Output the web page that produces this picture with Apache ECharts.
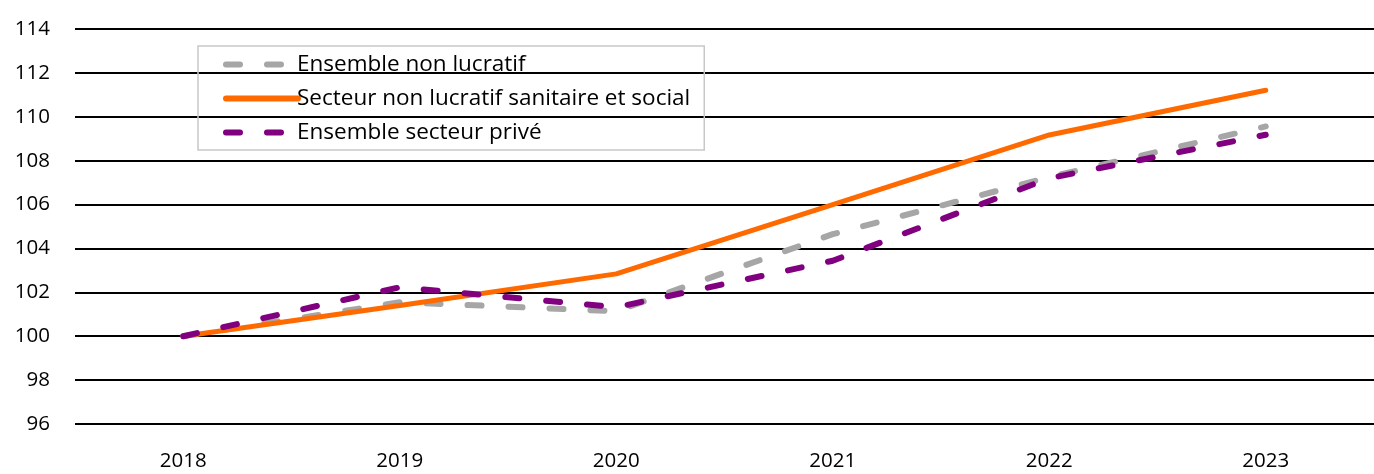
<!DOCTYPE html>
<html>
<head>
<meta charset="utf-8">
<script src="https://cdn.jsdelivr.net/npm/echarts@6/dist/echarts.min.js"></script>
<style>
  html, body { margin: 0; padding: 0; background: #fff; }
  #chart { width: 1374px; height: 474px; }
</style>
</head>
<body>
<div id="chart"></div>
<script>
// données (base 100 en 2018)
const years = ["2018", "2019", "2020", "2021", "2022", "2023"];
const ensembleNonLucratif = [100, 101.55, 101.14, 104.65, 107.25, 109.56];
const secteurSanitaireSocial = [100, 101.4, 102.84, 106.0, 109.17, 111.21];
const ensemblePrive = [100, 102.23, 101.32, 103.44, 107.2, 109.18];

const FONT = "'Open Sans', 'Noto Sans', sans-serif";

const chart = echarts.init(document.getElementById("chart"));

const dashed = (color) => ({
  color: color,
  width: 6,
  type: [14, 27],
  cap: "round",
});

chart.setOption({
  animation: false,
  backgroundColor: "#fff",
  grid: { left: 75, right: 0, top: 29, bottom: 50 },
  legend: {
    orient: "vertical",
    left: 198,
    top: 46,
    padding: [7, 14, 6, 25],
    borderColor: "#c8c8c8",
    borderWidth: 1.5,
    itemWidth: 72,
    itemHeight: 14,
    itemGap: 11,
    // pas de symbole dans la légende, seulement le trait
    itemStyle: { opacity: 0, borderWidth: 0 },
    lineStyle: { width: 6, cap: "round" },
    textStyle: { fontFamily: FONT, fontSize: 22.5, color: "#000", padding: [0, 0, 0, -6] },
    data: ["Ensemble non lucratif", "Secteur non lucratif sanitaire et social", "Ensemble secteur privé"],
  },
  xAxis: {
    type: "category",
    data: years,
    boundaryGap: true,
    axisLine: { show: false },
    axisTick: { show: false },
    axisLabel: { fontFamily: FONT, fontSize: 20.5, color: "#000", margin: 27 },
  },
  yAxis: {
    type: "value",
    min: 96,
    max: 114,
    interval: 2,
    axisLine: { show: false },
    axisTick: { show: false },
    axisLabel: { fontFamily: FONT, fontSize: 20.5, color: "#000", margin: 25 },
    splitLine: { lineStyle: { color: "#000", width: 2 } },
  },
  series: [
    {
      name: "Ensemble non lucratif",
      type: "line",
      data: ensembleNonLucratif,
      symbol: "none",
      color: "#a6a6a6",
      lineStyle: dashed("#a6a6a6"),
      z: 2,
    },
    {
      name: "Secteur non lucratif sanitaire et social",
      type: "line",
      data: secteurSanitaireSocial,
      symbol: "none",
      color: "#ff6a00",
      lineStyle: { color: "#ff6a00", width: 5, cap: "round" },
      z: 3,
    },
    {
      name: "Ensemble secteur privé",
      type: "line",
      data: ensemblePrive,
      symbol: "none",
      color: "#800080",
      lineStyle: dashed("#800080"),
      z: 4,
    },
  ],
});
</script>
</body>
</html>
